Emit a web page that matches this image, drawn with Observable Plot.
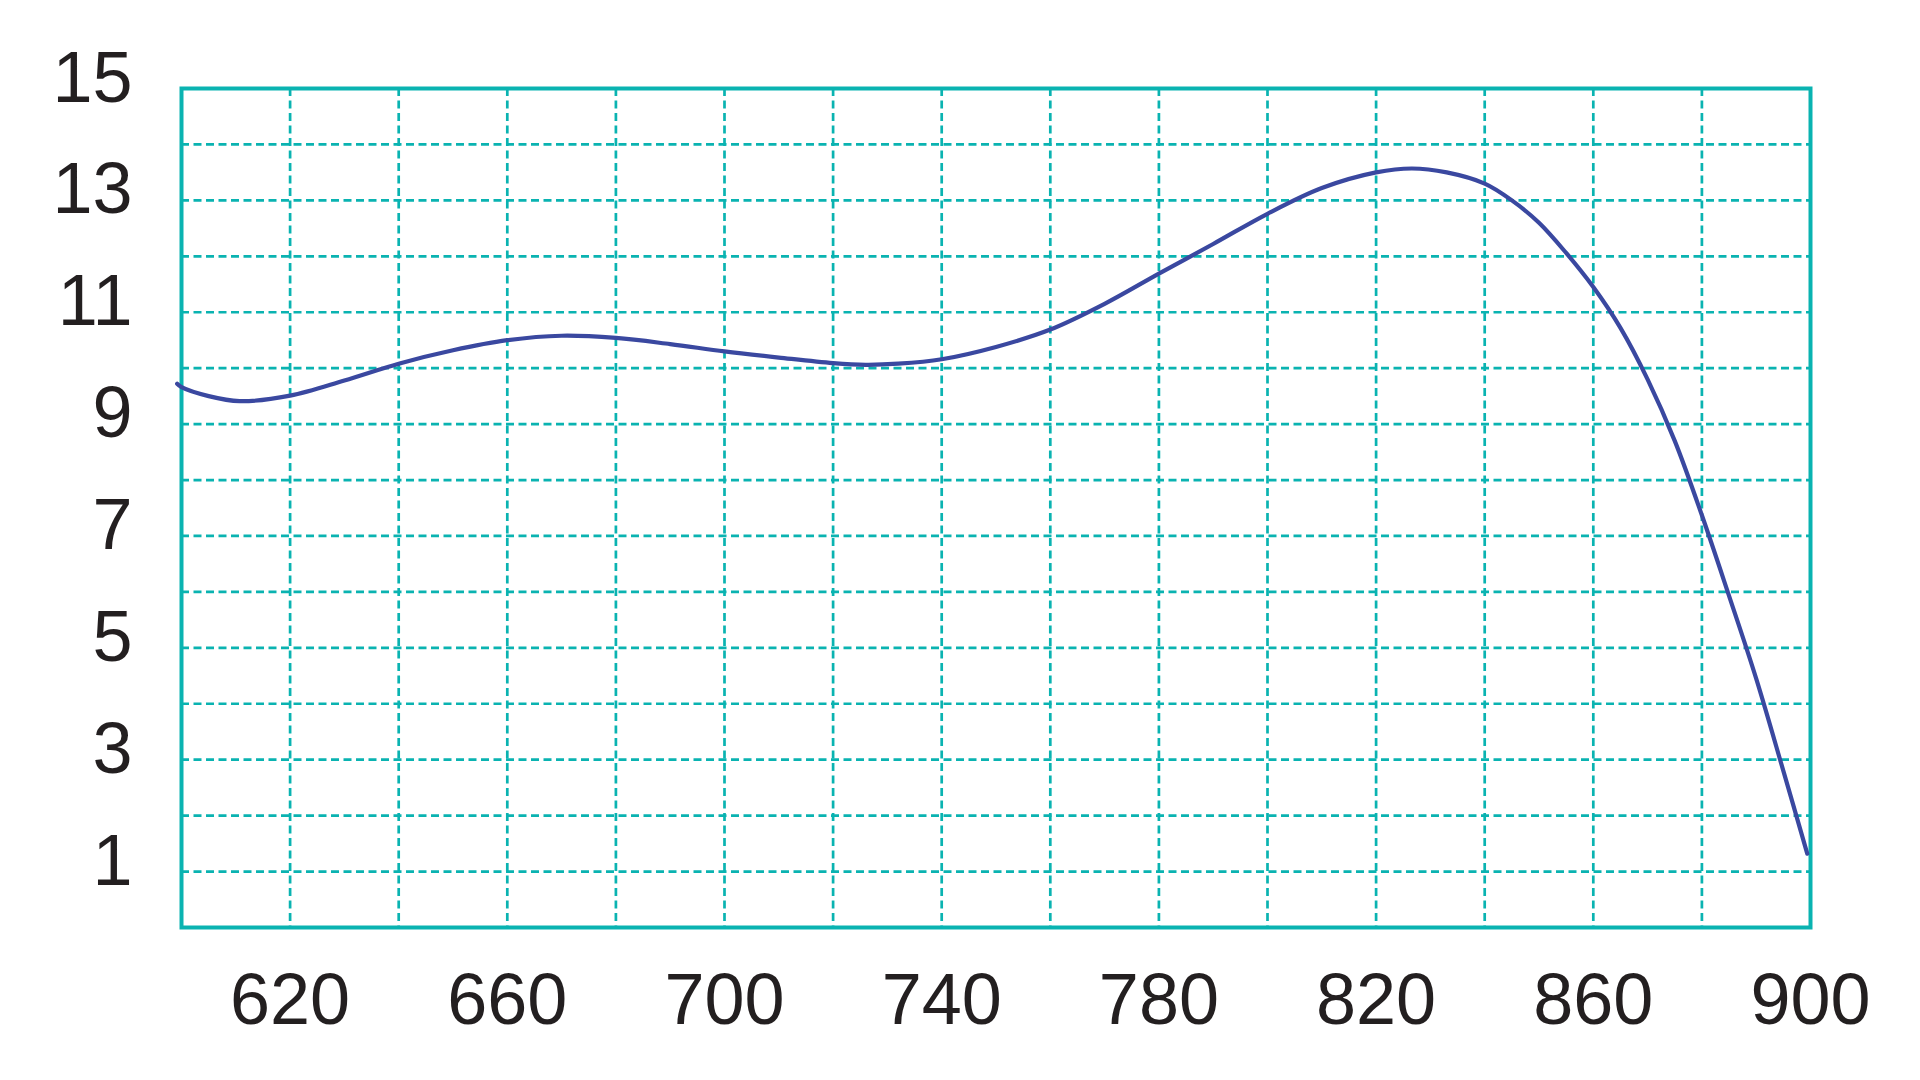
<!DOCTYPE html>
<html>
<head>
<meta charset="utf-8">
<script src="https://cdn.jsdelivr.net/npm/d3@7"></script>
<script src="https://cdn.jsdelivr.net/npm/@observablehq/plot@0.6"></script>
<style>
  html, body { margin: 0; padding: 0; background: #ffffff; }
  #chart { width: 1920px; height: 1080px; }
</style>
</head>
<body>
<div id="chart"></div>
<script>
// Wavelength (x) and value (y)
const wavelength = [599.2, 600, 605, 610.7, 620, 630, 640, 650, 660, 670, 680, 690, 700, 710, 720, 726, 732, 740, 750, 760, 770, 780, 790, 800, 810, 820, 826.6, 833, 840, 845, 850, 855, 860, 865, 870, 875, 880, 885, 890, 895, 899.4];
const values     = [9.72, 9.66, 9.5, 9.41, 9.51, 9.78, 10.08, 10.32, 10.5, 10.58, 10.54, 10.43, 10.3, 10.19, 10.09, 10.06, 10.08, 10.16, 10.38, 10.69, 11.15, 11.69, 12.22, 12.76, 13.22, 13.5, 13.57, 13.5, 13.3, 13.0, 12.6, 12.06, 11.45, 10.72, 9.8, 8.7, 7.37, 5.93, 4.45, 2.8, 1.32];

const xTickLabels = [620, 660, 700, 740, 780, 820, 860, 900];
const yTickLabels = [1, 3, 5, 7, 9, 11, 13, 15];
const xGridValues = [620, 640, 660, 680, 700, 720, 740, 760, 780, 800, 820, 840, 860, 880];
const yGridValues = [1, 2, 3, 4, 5, 6, 7, 8, 9, 10, 11, 12, 13, 14];

const data = wavelength.map((w, i) => ({ w, v: values[i] }));

const teal = "#0ab3b1";
const lineColor = "#3a48a0";

const chart = Plot.plot({
  width: 1920,
  height: 1080,
  marginLeft: 181,
  marginRight: 110,
  marginTop: 88,
  marginBottom: 153,
  style: {
    fontFamily: "'Liberation Sans', Arial, sans-serif",
    fontSize: "72px",
    color: "#231f20",
    background: "#ffffff"
  },
  x: { domain: [600, 900] },
  y: { domain: [0, 15] },
  marks: [
    Plot.ruleX(xGridValues, { stroke: teal, strokeWidth: 2.7, strokeDasharray: "8,4.5" }),
    Plot.ruleY(yGridValues, { stroke: teal, strokeWidth: 2.7, strokeDasharray: "8,4.5" }),
    Plot.frame({ stroke: teal, strokeWidth: 4 }),
    Plot.line(data, { x: "w", y: "v", curve: "catmull-rom", stroke: lineColor, strokeWidth: 4.2 }),
    Plot.axisX(xTickLabels, { tickSize: 0, tickPadding: 45, label: null, tickFormat: "d", fill: "#231f20" }),
    Plot.axisY(yTickLabels, { tickSize: 0, tickPadding: 49, dy: -10, label: null, tickFormat: "d", fill: "#231f20" })
  ]
});

document.getElementById("chart").appendChild(chart);
</script>
</body>
</html>
